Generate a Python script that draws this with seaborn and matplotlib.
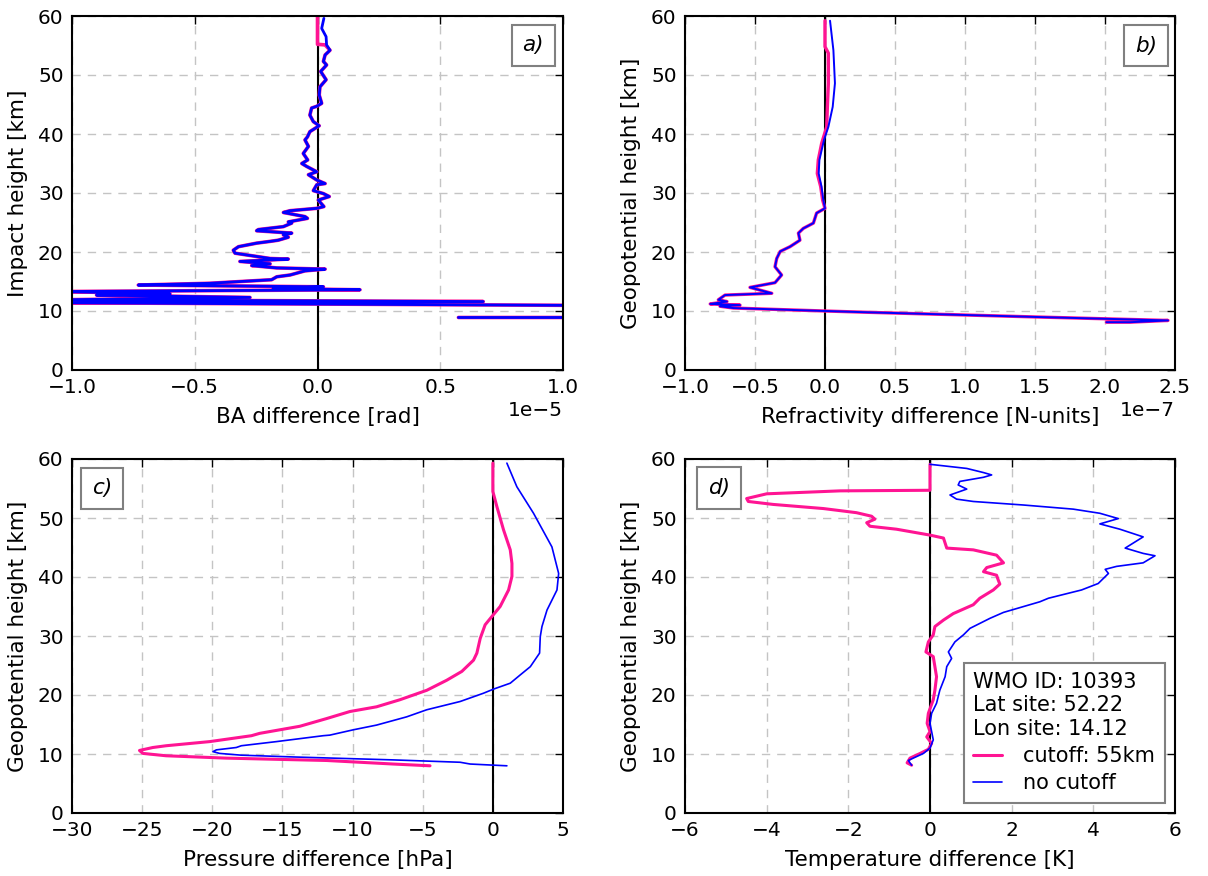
import numpy as np
import matplotlib
matplotlib.use("Agg")
import matplotlib.pyplot as plt
import seaborn as sns

# ---------------- data ----------------
# Panel a: bending angle difference (units of 1e-5 rad) vs impact height (km)
A_NOCUT = [(0.026, 59.6), (0.017, 57.9), (0.035, 56.5), (0.037, 55.1), (0.051, 54.2),
           (0.031, 53.4), (0.024, 52.3), (0.037, 51.7), (0.013, 50.6), (0.035, 49.2),
           (0.010, 48.0), (0.007, 46.6), (0.017, 45.2), (-0.003, 44.7), (-0.024, 44.4),
           (-0.031, 43.2), (-0.017, 42.1), (0.007, 41.4), (-0.031, 40.4), (-0.041, 39.5),
           (-0.051, 39.0), (-0.037, 37.9), (-0.058, 36.7), (-0.040, 35.6), (-0.064, 35.0),
           (-0.044, 34.5), (-0.003, 33.6), (-0.037, 33.1), (-0.003, 32.2), (0.031, 31.6),
           (-0.003, 31.4), (-0.017, 30.4), (0.024, 29.9), (0.048, 29.4), (0.003, 28.8),
           (0.026, 27.7), (-0.003, 27.4), (-0.112, 27.0), (-0.139, 26.7), (-0.051, 26.0),
           (-0.041, 25.7), (-0.119, 25.1), (-0.105, 24.9), (-0.139, 24.3), (-0.241, 23.8),
           (-0.248, 23.6), (-0.105, 23.2), (-0.139, 22.9), (-0.119, 22.5), (-0.160, 22.0),
           (-0.193, 21.8), (-0.248, 21.5), (-0.322, 20.9), (-0.343, 20.3), (-0.336, 19.8),
           (-0.193, 18.9), (-0.119, 18.8), (-0.316, 18.4), (-0.193, 18.0), (-0.268, 17.7),
           (-0.166, 17.3), (0.031, 17.1), (-0.051, 16.8), (-0.112, 16.1), (-0.166, 15.8),
           (-0.187, 15.3), (-0.438, 14.7), (-0.730, 14.4), (0.024, 14.1), (-0.180, 13.8),
           (0.173, 13.6), (-1.05, 13.3), (-0.601, 12.9), (-0.900, 12.7), (-0.275, 12.3),
           (-1.05, 11.9), (0.675, 11.6), (-1.05, 11.4), (1.30, 10.9), (1.30, 8.9),
           (0.574, 8.9)]
A_CUT_TOP = [(0.0, 59.9), (0.0, 55.2), (0.031, 55.1)]

# Panel b: refractivity difference (units of 1e-7 N-units) vs geopotential height (km)
B_CUT = [(0.0, 59.2), (0.0, 54.8), (0.024, 53.7), (0.024, 48.6), (0.017, 44.6),
         (0.012, 41.2), (-0.024, 38.4), (-0.048, 35.6), (-0.055, 33.3), (-0.031, 31.1),
         (-0.017, 28.8), (0.0, 27.4), (-0.06, 26.6), (-0.083, 24.9), (-0.155, 24.0),
         (-0.19, 23.2), (-0.179, 22.0), (-0.25, 20.9), (-0.32, 20.1), (-0.345, 18.9),
         (-0.357, 17.5), (-0.31, 16.1), (-0.357, 14.8), (-0.536, 14.0), (-0.38, 13.0),
         (-0.714, 12.7), (-0.762, 11.9), (-0.70, 11.6), (-0.82, 11.2), (-0.607, 11.0),
         (-0.75, 10.8), (-0.655, 10.5), (0.0, 10.0), (0.274, 9.8), (1.49, 9.0),
         (2.45, 8.4), (2.18, 8.1), (2.01, 8.1)]
B_NOCUT = [(0.036, 59.2), (0.06, 54.2), (0.071, 48.6), (0.055, 44.6), (0.024, 41.2),
           (-0.007, 39.0), (-0.040, 35.6), (-0.045, 33.3), (-0.025, 31.1), (-0.012, 28.8),
           (0.0, 27.4), (-0.06, 26.6), (-0.083, 24.9), (-0.155, 24.0), (-0.19, 23.2),
           (-0.179, 22.0), (-0.25, 20.9), (-0.32, 20.1), (-0.345, 18.9), (-0.357, 17.5),
           (-0.31, 16.1), (-0.357, 14.8), (-0.536, 14.0), (-0.38, 13.0), (-0.714, 12.7),
           (-0.762, 11.9), (-0.70, 11.6), (-0.82, 11.2), (-0.607, 11.0), (-0.75, 10.8),
           (-0.655, 10.5), (0.0, 10.0), (0.274, 9.8), (1.49, 9.0), (2.45, 8.4),
           (2.18, 8.1), (2.01, 8.1)]

# Panel c: pressure difference (hPa) vs geopotential height (km)
C_CUT = [(0.0, 59.3), (0.0, 54.5), (0.29, 51.9), (0.76, 48.0), (1.24, 44.6), (1.36, 42.3),
         (1.36, 40.1), (1.12, 37.8), (0.52, 35.0), (-0.07, 33.3), (-0.55, 31.9),
         (-0.90, 29.6), (-1.14, 27.1), (-1.38, 25.9), (-2.21, 24.0), (-3.29, 22.5),
         (-4.71, 20.8), (-6.62, 19.2), (-8.29, 18.0), (-10.19, 17.2), (-11.86, 16.0),
         (-13.76, 14.7), (-15.19, 14.1), (-16.62, 13.5), (-17.21, 13.1), (-20.19, 12.1),
         (-23.29, 11.4), (-24.24, 11.1), (-25.19, 10.6), (-24.95, 10.1), (-23.29, 9.7),
         (-19.0, 9.3), (-11.86, 8.9), (-7.10, 8.3), (-4.48, 8.0)]
C_NOCUT = [(1.0, 59.3), (1.71, 55.3), (2.90, 50.8), (4.21, 45.1), (4.69, 40.6), (4.57, 37.8),
           (3.86, 34.4), (3.50, 31.6), (3.38, 29.9), (3.33, 27.1), (2.67, 24.8), (1.95, 23.4),
           (1.24, 22.0), (0.05, 21.0), (-0.67, 20.3), (-2.33, 18.9), (-4.71, 17.5),
           (-6.14, 16.3), (-8.29, 14.9), (-9.95, 14.1), (-11.62, 13.2), (-12.1, 13.1),
           (-15.43, 12.1), (-17.93, 11.4), (-18.29, 11.1), (-19.71, 10.7), (-19.95, 10.4),
           (-19.48, 10.1), (-17.93, 9.8), (-14.24, 9.5), (-7.10, 9.0), (-2.33, 8.6),
           (-1.62, 8.3), (1.0, 8.0)]

# Panel d: temperature difference (K) vs geopotential height (km)
D_CUT = [(0.0, 59.1), (0.0, 54.7), (-2.20, 54.6), (-4.0, 54.1), (-4.49, 53.3), (-4.45, 52.8),
         (-3.84, 52.3), (-2.61, 51.6), (-1.80, 50.9), (-1.43, 50.3), (-1.35, 49.8),
         (-1.55, 49.2), (-1.47, 48.6), (-0.82, 48.1), (0.0, 47.1), (0.33, 46.6), (0.41, 44.9),
         (1.06, 44.6), (1.63, 43.7), (1.80, 42.4), (1.39, 41.6), (1.31, 40.9), (1.63, 40.3),
         (1.67, 39.5), (1.71, 38.8), (1.55, 37.8), (1.22, 36.4), (1.06, 35.3), (0.57, 33.8),
         (0.33, 32.7), (0.12, 31.6), (0.08, 30.2), (-0.04, 29.0), (-0.10, 27.3), (0.08, 26.5),
         (0.12, 24.8), (0.16, 23.1), (0.12, 20.8), (0.08, 19.2), (-0.04, 16.9), (-0.07, 15.2),
         (0.0, 13.8), (-0.08, 12.9), (0.04, 11.8), (-0.04, 10.8), (-0.24, 10.1), (-0.49, 9.3),
         (-0.56, 8.5), (-0.45, 8.1)]
D_NOCUT = [(0.0, 59.1), (0.90, 58.4), (1.31, 57.7), (1.51, 57.3), (1.31, 56.9), (0.73, 56.2),
           (0.69, 55.6), (0.90, 54.9), (0.49, 53.9), (0.65, 53.2), (1.06, 52.8), (2.29, 52.2),
           (3.51, 51.5), (4.16, 50.8), (4.61, 49.9), (4.16, 49.0), (4.65, 48.1), (5.22, 46.8),
           (4.78, 44.9), (5.22, 44.0), (5.51, 43.6), (5.22, 42.4), (4.57, 41.8), (4.29, 41.3),
           (4.37, 40.6), (4.12, 38.9), (3.71, 37.8), (2.90, 36.4), (2.69, 35.8), (1.80, 34.0),
           (1.47, 33.0), (0.98, 31.3), (0.82, 30.2), (0.61, 29.0), (0.45, 27.3), (0.53, 26.2),
           (0.41, 24.8), (0.37, 23.1), (0.24, 20.8), (0.16, 18.6), (0.04, 16.9), (0.0, 15.2),
           (0.04, 13.8), (0.08, 12.4), (0.0, 11.0), (-0.16, 10.1), (-0.41, 9.3), (-0.53, 8.9),
           (-0.45, 8.1)]

LEGEND_TITLE = ["WMO ID: 10393", "Lat site: 52.22", "Lon site: 14.12"]
LABEL_CUT = "cutoff: 55km"
LABEL_NOCUT = "no cutoff"
PANEL_LABELS = ["a)", "b)", "c)", "d)"]

# ---------------- style ----------------
sns.set_theme(style="white")
plt.rcParams.update({
    "font.family": ["DejaVu Sans"],
    "font.size": 14.5,
    "text.color": "black",
    "axes.labelcolor": "black",
    "axes.linewidth": 1.5,
    "axes.edgecolor": "black",
    "xtick.direction": "in",
    "ytick.direction": "in",
    "xtick.top": True,
    "ytick.right": True,
    "xtick.major.size": 6,
    "ytick.major.size": 6,
    "xtick.major.width": 1,
    "ytick.major.width": 1,
    "xtick.color": "black",
    "ytick.color": "black",
    "xtick.labelcolor": "black",
    "ytick.labelcolor": "black",
    "xtick.labelsize": 14.5,
    "ytick.labelsize": 14.5,
    "axes.labelsize": 15.5,
    "axes.labelpad": 7,
    "xtick.major.pad": 6,
    "ytick.major.pad": 6,
})

PINK = "#ff1493"
BLUE = "#0000ff"

fig = plt.figure(figsize=(12.08, 8.76), dpi=100)
W = 1208.0
H = 876.0
lx, rx = 72 / W, 685 / W
lw_, rw_ = 491 / W, 490 / W
tb, bb = (H - 370) / H, (H - 813) / H
hh = 354 / H
ax_a = fig.add_axes([lx, tb, lw_, hh])
ax_b = fig.add_axes([rx, tb, rw_, hh])
ax_c = fig.add_axes([lx, bb, lw_, hh])
ax_d = fig.add_axes([rx, bb, rw_, hh])


def split(pairs, scale=1.0):
    arr = np.array(pairs, dtype=float)
    return arr[:, 0] * scale, arr[:, 1]


def draw(ax, pairs, color, lw, label=None, scale=1.0):
    x, y = split(pairs, scale)
    kw = dict(x=x, y=y, sort=False, estimator=None, color=color, linewidth=lw, ax=ax)
    if label is not None:
        kw["label"] = label
    else:
        kw["legend"] = False
    sns.lineplot(**kw)


# Panel a
draw(ax_a, A_CUT_TOP + A_NOCUT[4:], PINK, 2.6, scale=1e-5)
draw(ax_a, A_NOCUT, BLUE, 2.0, scale=1e-5)
ax_a.set_xlim(-1e-5, 1e-5)
ax_a.set_xticks(np.arange(-1.0, 1.01, 0.5) * 1e-5)
ax_a.set_xlabel("BA difference [rad]")
ax_a.set_ylabel("Impact height [km]")

# Panel b
draw(ax_b, B_CUT, PINK, 2.4, scale=1e-7)
draw(ax_b, B_NOCUT, BLUE, 1.4, scale=1e-7)
ax_b.set_xlim(-1e-7, 2.5e-7)
ax_b.set_xticks(np.arange(-1.0, 2.51, 0.5) * 1e-7)
ax_b.set_xlabel("Refractivity difference [N-units]")
ax_b.set_ylabel("Geopotential height [km]")

# Panel c
draw(ax_c, C_CUT, PINK, 2.2)
draw(ax_c, C_NOCUT, BLUE, 1.2)
ax_c.set_xlim(-30, 5)
ax_c.set_xticks(np.arange(-30, 6, 5))
ax_c.set_xlabel("Pressure difference [hPa]")
ax_c.set_ylabel("Geopotential height [km]")

# Panel d
draw(ax_d, D_CUT, PINK, 2.2, label=LABEL_CUT)
draw(ax_d, D_NOCUT, BLUE, 1.2, label=LABEL_NOCUT)
ax_d.set_xlim(-6, 6)
ax_d.set_xticks(np.arange(-6, 7, 2))
ax_d.set_xlabel("Temperature difference [K]")
ax_d.set_ylabel("Geopotential height [km]")

label_pos = [(0.939, 0.917), (0.941, 0.916), (0.061, 0.917), (0.069, 0.918)]
for ax, lab, pos in zip([ax_a, ax_b, ax_c, ax_d], PANEL_LABELS, label_pos):
    ax.axvline(0, color="black", lw=1.5, zorder=1.5)
    ax.set_ylim(0, 60)
    ax.set_yticks(np.arange(0, 61, 10))
    ax.grid(True, color="#c4c4c4", linestyle=(0, (6, 5)), linewidth=1)
    ax.set_axisbelow(True)
    for s in ax.spines.values():
        s.set_visible(True)
        s.set_color("black")
        s.set_linewidth(1.5)
    ax.tick_params(which="both", top=True, right=True, direction="in",
                   labelcolor="black")
    ax.xaxis.get_offset_text().set_fontsize(14.5)
    ax.xaxis.get_offset_text().set_color("black")
    ax.text(pos[0], pos[1], lab, transform=ax.transAxes, ha="center", va="center",
            style="italic", fontsize=15.5, color="black",
            bbox=dict(boxstyle="square,pad=0.5", fc="white", ec="#808080", lw=1.5),
            zorder=5)

leg = ax_d.legend(title="\n".join(LEGEND_TITLE), loc="lower right", fontsize=15,
                  title_fontsize=15, alignment="left", frameon=True, fancybox=False,
                  edgecolor="#808080", framealpha=1, handlelength=1.4,
                  handletextpad=1.0, labelspacing=0.35, borderpad=0.45,
                  borderaxespad=0.5)
leg.get_frame().set_linewidth(1.5)
for t in leg.get_texts():
    t.set_color("black")
leg.get_title().set_color("black")

fig.savefig("out.png", dpi=100)
